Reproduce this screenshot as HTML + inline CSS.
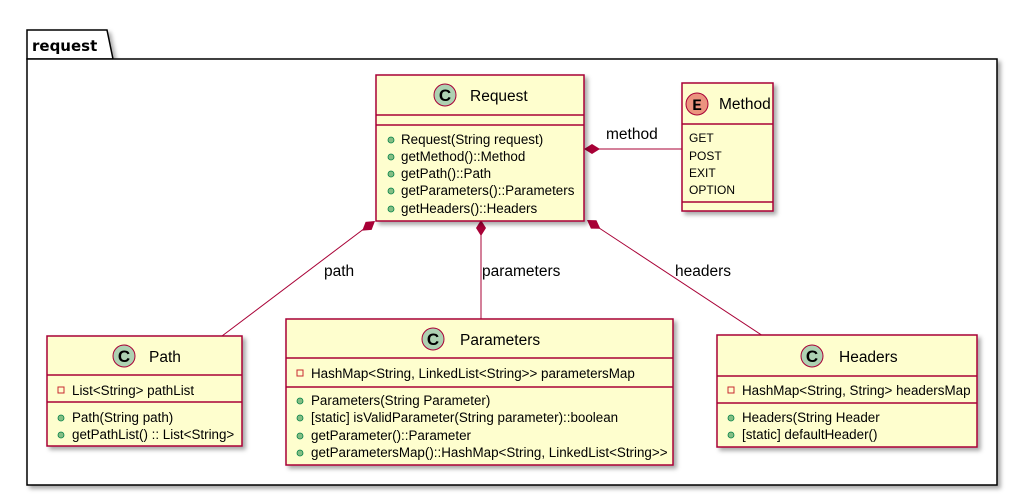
<!DOCTYPE html>
<html><head><meta charset="utf-8"><style>
html,body{margin:0;padding:0;background:#fff;}
svg{display:block;}
text{font-family:"Liberation Sans",sans-serif;font-size:13.4px;fill:#000;}
.t{font-size:15.5px;}
.l{font-size:15.5px;}
.e{font-size:12px;}
.c{font-weight:bold;font-size:17px;}
</style></head><body>
<svg width="1023" height="498" viewBox="0 0 1023 498" xmlns="http://www.w3.org/2000/svg">
<defs>
<filter id="sh" x="-5%" y="-5%" width="115%" height="120%"><feDropShadow dx="3" dy="3" stdDeviation="2" flood-color="#000" flood-opacity="0.35"/></filter>
</defs>
<g filter="url(#sh)">
<path d="M27,59 L27,30 L107,30 L113,59 Z" fill="#fff" stroke="#000" stroke-width="1.5"/>
<rect x="27" y="59" width="970" height="426" fill="#fff" stroke="#000" stroke-width="1.5"/>
</g>
<text x="32" y="51" style="font-weight:bold;font-size:15px;font-family:'DejaVu Sans',sans-serif">request</text>

<g stroke="#A80036" stroke-width="1" fill="none">
<line x1="373" y1="222" x2="222" y2="336"/>
<line x1="481" y1="221" x2="481" y2="319"/>
<line x1="590" y1="222" x2="763" y2="336"/>
<line x1="585" y1="149" x2="682" y2="149"/>
</g>
<g fill="#A80036">
<polygon points="0,0 8,-5 16,0 8,5" transform="translate(375,221) rotate(142.9)"/>
<polygon points="0,0 8,-5 16,0 8,5" transform="translate(481,220) rotate(90)"/>
<polygon points="0,0 8,-5 16,0 8,5" transform="translate(587,220) rotate(33.4)"/>
<polygon points="0,0 8,-5 16,0 8,5" transform="translate(584,149) rotate(0)"/>
</g>
<text class="l" x="324" y="276">path</text>
<text class="l" x="482" y="276">parameters</text>
<text class="l" x="675" y="276">headers</text>
<text class="l" x="606" y="139">method</text>

<g filter="url(#sh)"><rect x="376" y="75" width="208" height="146" fill="#FEFECE" stroke="#A80036" stroke-width="1.5"/></g>
<line x1="376" y1="115" x2="584" y2="115" stroke="#A80036" stroke-width="1.5"/>
<line x1="376" y1="125" x2="584" y2="125" stroke="#A80036" stroke-width="1.5"/>
<circle cx="445" cy="95" r="11" fill="#ADD1B2" stroke="#A80036"/>
<text class="c" x="445" y="101" text-anchor="middle">C</text>
<text class="t" x="470" y="101">Request</text>
<g fill="#84BE84" stroke="#038048" stroke-width="0.8">
<circle cx="391" cy="140" r="3"/><circle cx="391" cy="157" r="3"/><circle cx="391" cy="174" r="3"/><circle cx="391" cy="191" r="3"/><circle cx="391" cy="209" r="3"/>
</g>
<text x="401" y="144">Request(String request)</text>
<text x="401" y="161">getMethod()::Method</text>
<text x="401" y="178">getPath()::Path</text>
<text x="401" y="195">getParameters()::Parameters</text>
<text x="401" y="213">getHeaders()::Headers</text>

<g filter="url(#sh)"><rect x="682" y="83" width="91" height="128" fill="#FEFECE" stroke="#A80036" stroke-width="1.5"/></g>
<line x1="682" y1="124" x2="773" y2="124" stroke="#A80036" stroke-width="1.5"/>
<line x1="682" y1="202" x2="773" y2="202" stroke="#A80036" stroke-width="1.5"/>
<circle cx="697" cy="104" r="11" fill="#EB937F" stroke="#A80036"/>
<text x="697" y="110" text-anchor="middle" style="font-weight:bold;font-size:16px;font-family:'Liberation Mono',monospace">E</text>
<text class="t" x="719" y="109">Method</text>
<text class="e" x="689" y="142">GET</text>
<text class="e" x="689" y="160">POST</text>
<text class="e" x="689" y="177">EXIT</text>
<text class="e" x="689" y="194">OPTION</text>

<g filter="url(#sh)"><rect x="47" y="336" width="195" height="110" fill="#FEFECE" stroke="#A80036" stroke-width="1.5"/></g>
<line x1="47" y1="375" x2="242" y2="375" stroke="#A80036" stroke-width="1.5"/>
<line x1="47" y1="402" x2="242" y2="402" stroke="#A80036" stroke-width="1.5"/>
<circle cx="124" cy="356" r="11" fill="#ADD1B2" stroke="#A80036"/>
<text class="c" x="124" y="362" text-anchor="middle">C</text>
<text class="t" x="149" y="362">Path</text>
<rect x="58" y="387" width="6" height="6" fill="none" stroke="#C82930"/>
<text x="72" y="395">List&lt;String&gt; pathList</text>
<g fill="#84BE84" stroke="#038048" stroke-width="0.8"><circle cx="61" cy="418" r="3"/><circle cx="61" cy="435" r="3"/></g>
<text x="72" y="422">Path(String path)</text>
<text x="72" y="439">getPathList() :: List&lt;String&gt;</text>

<g filter="url(#sh)"><rect x="286" y="319" width="387" height="146" fill="#FEFECE" stroke="#A80036" stroke-width="1.5"/></g>
<line x1="286" y1="358" x2="673" y2="358" stroke="#A80036" stroke-width="1.5"/>
<line x1="286" y1="387" x2="673" y2="387" stroke="#A80036" stroke-width="1.5"/>
<circle cx="433" cy="339" r="11" fill="#ADD1B2" stroke="#A80036"/>
<text class="c" x="433" y="345" text-anchor="middle">C</text>
<text class="t" x="460" y="345">Parameters</text>
<rect x="297" y="370" width="6" height="6" fill="none" stroke="#C82930"/>
<text x="311" y="378">HashMap&lt;String, LinkedList&lt;String&gt;&gt; parametersMap</text>
<g fill="#84BE84" stroke="#038048" stroke-width="0.8"><circle cx="300" cy="401" r="3"/><circle cx="300" cy="418" r="3"/><circle cx="300" cy="436" r="3"/><circle cx="300" cy="453" r="3"/></g>
<text x="311" y="405">Parameters(String Parameter)</text>
<text x="311" y="422">[static] isValidParameter(String parameter)::boolean</text>
<text x="311" y="440">getParameter()::Parameter</text>
<text x="311" y="457">getParametersMap()::HashMap&lt;String, LinkedList&lt;String&gt;&gt;</text>

<g filter="url(#sh)"><rect x="717" y="335" width="260" height="112" fill="#FEFECE" stroke="#A80036" stroke-width="1.5"/></g>
<line x1="717" y1="376" x2="977" y2="376" stroke="#A80036" stroke-width="1.5"/>
<line x1="717" y1="403" x2="977" y2="403" stroke="#A80036" stroke-width="1.5"/>
<circle cx="812" cy="356" r="11" fill="#ADD1B2" stroke="#A80036"/>
<text class="c" x="812" y="362" text-anchor="middle">C</text>
<text class="t" x="839" y="362">Headers</text>
<rect x="728" y="387" width="6" height="6" fill="none" stroke="#C82930"/>
<text x="742" y="395">HashMap&lt;String, String&gt; headersMap</text>
<g fill="#84BE84" stroke="#038048" stroke-width="0.8"><circle cx="731" cy="418" r="3"/><circle cx="731" cy="435" r="3"/></g>
<text x="742" y="422">Headers(String Header</text>
<text x="742" y="439">[static] defaultHeader()</text>
</svg>
</body></html>
